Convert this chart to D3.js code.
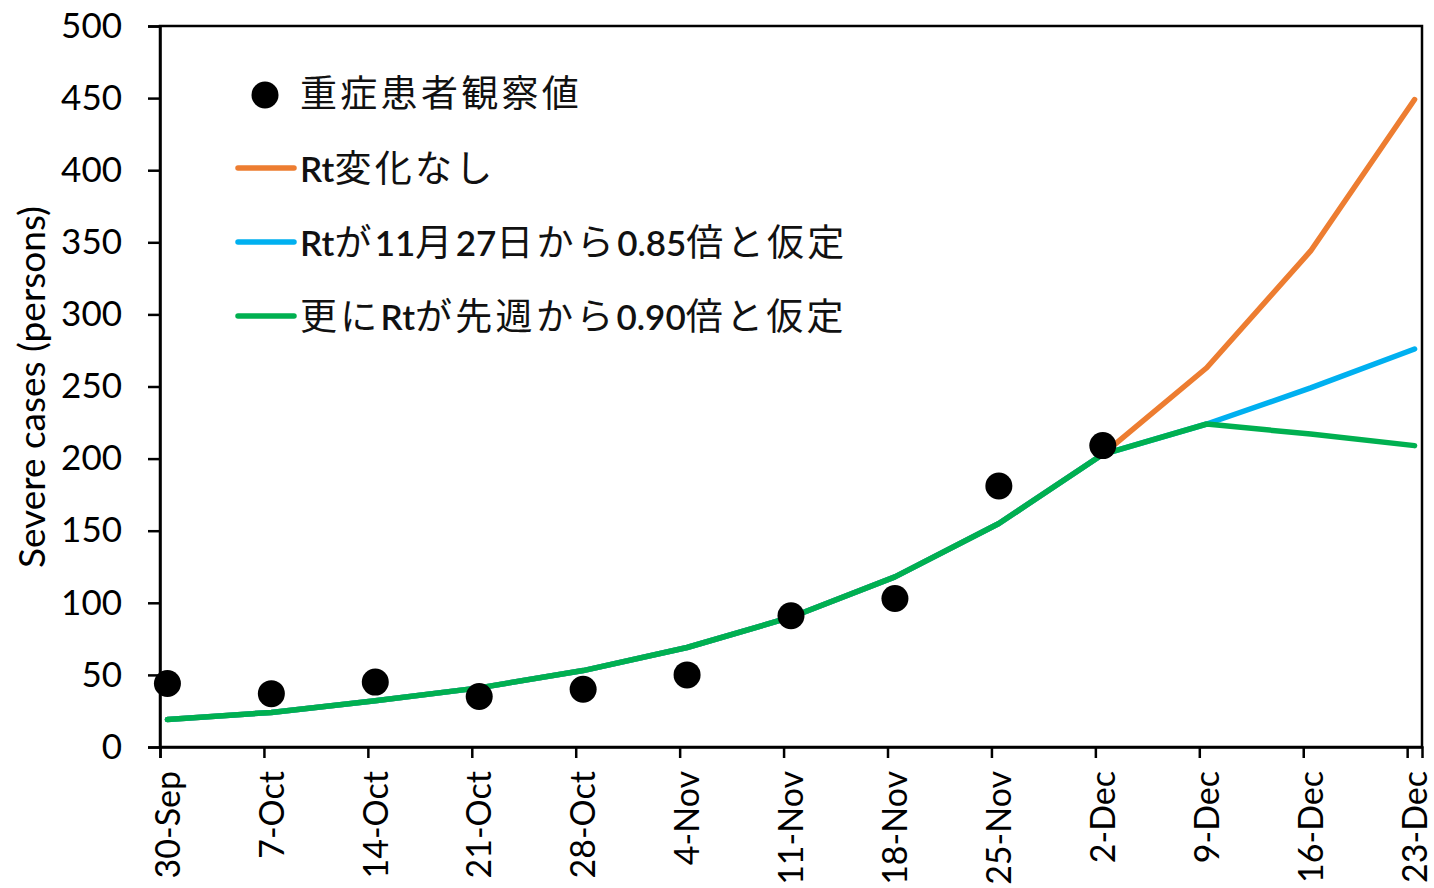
<!DOCTYPE html>
<html>
<script src="https://d3js.org/d3.v7.min.js"></script>

<head>
    <style>
        body {
            margin: 0;
            background-color: white;
        }

        svg {
            display: block;
        }
    </style>
</head>

<body>
</body>
<script>
    const width = 1434,
        height = 888;

    // weekly dates (Wednesdays), 2020
    const weeks = ["2020-09-30", "2020-10-07", "2020-10-14", "2020-10-21", "2020-10-28", "2020-11-04",
        "2020-11-11", "2020-11-18", "2020-11-25", "2020-12-02", "2020-12-09", "2020-12-16", "2020-12-23"];
    const tickLabels = ["30-Sep", "7-Oct", "14-Oct", "21-Oct", "28-Oct", "4-Nov", "11-Nov",
        "18-Nov", "25-Nov", "2-Dec", "9-Dec", "16-Dec", "23-Dec"];

    // observed severe cases (first 10 weeks)
    const observed = [44, 37, 45, 35, 40, 50, 91, 103, 181, 209];

    // model series
    const noChange = [19, 24, 32, 41, 53, 69, 90, 118, 155, 203, 263, 344, 449];
    const rt085 = [19, 24, 32, 41, 53, 69, 90, 118, 155, 203, 224, 249, 276];
    const rt090 = [19, 24, 32, 41, 53, 69, 90, 118, 155, 203, 224, 217, 209];

    const yTicks = [0, 50, 100, 150, 200, 250, 300, 350, 400, 450, 500];

    const legendLabels = ["重症患者観察値", "Rt変化なし", "Rtが11月27日から0.85倍と仮定", "更にRtが先週から0.90倍と仮定"];
    const lineColors = ["#ED7D31", "#00B0F0", "#00B050"];

    const margin = { top: 26, right: 12, bottom: 141, left: 160 };
    const latin = "Lato, 'Noto Sans', sans-serif";
    const cjk = "Lato, 'Noto Sans CJK JP', sans-serif";

    const parse = d3.timeParse("%Y-%m-%d");
    const dates = weeks.map(parse);
    const halfDay = d => d3.timeHour.offset(d, 12);

    const svg = d3.select("body").append("svg").attr("width", width).attr("height", height);

    const x = d3.scaleTime()
        .domain([dates[0], d3.timeDay.offset(dates[dates.length - 1], 1)])
        .range([margin.left, width - margin.right]);
    const y = d3.scaleLinear()
        .domain([0, 500])
        .range([height - margin.bottom, margin.top]);

    // plot box
    svg.append("rect")
        .attr("x", margin.left)
        .attr("y", margin.top)
        .attr("width", width - margin.right - margin.left)
        .attr("height", height - margin.bottom - margin.top)
        .attr("fill", "none")
        .attr("stroke", "black")
        .attr("stroke-width", 2.5);

    // y axis
    const yAxis = svg.append("g")
        .attr("transform", `translate(${margin.left},0)`)
        .call(d3.axisLeft(y).tickValues(yTicks).tickSize(12).tickPadding(26));
    yAxis.select(".domain").attr("stroke-width", 2.5);
    yAxis.selectAll(".tick line").attr("stroke-width", 2.5);
    yAxis.selectAll("text")
        .attr("font-family", latin)
        .attr("font-size", 35)
        .attr("fill", "black");

    // x axis
    const xAxis = svg.append("g")
        .attr("transform", `translate(0,${height - margin.bottom})`)
        .call(d3.axisBottom(x).tickValues(dates).tickSize(11).tickFormat(""));
    xAxis.select(".domain").attr("stroke-width", 2.5);
    xAxis.selectAll(".tick line").attr("stroke-width", 2.5);
    svg.append("g").selectAll("text")
        .data(dates)
        .join("text")
        .attr("transform", d => `translate(${x(halfDay(d))},${height - margin.bottom + 24}) rotate(-90)`)
        .attr("text-anchor", "end")
        .attr("dy", "0.36em")
        .attr("font-family", latin)
        .attr("font-size", 34)
        .text((d, i) => tickLabels[i]);

    // y label
    svg.append("text")
        .attr("transform", "translate(45,387) rotate(-90)")
        .attr("text-anchor", "middle")
        .attr("font-family", latin)
        .attr("font-size", 37)
        .text("Severe cases (persons)");

    // model lines
    const line = d3.line()
        .x((d, i) => x(halfDay(dates[i])))
        .y(d => y(d));
    [noChange, rt085, rt090].forEach((s, k) => {
        svg.append("path")
            .datum(s)
            .attr("fill", "none")
            .attr("stroke", lineColors[k])
            .attr("stroke-width", 5.5)
            .attr("stroke-linecap", "round")
            .attr("stroke-linejoin", "round")
            .attr("d", line);
    });

    // observed points
    svg.append("g").selectAll("circle")
        .data(observed)
        .join("circle")
        .attr("cx", (d, i) => x(halfDay(dates[i])))
        .attr("cy", d => y(d))
        .attr("r", 13.5)
        .attr("fill", "black");

    // legend, latin runs slightly smaller than the japanese
    function legendText(sel, str) {
        const runs = str.match(/[\x00-\x7F]+|[^\x00-\x7F]+/g);
        sel.selectAll("tspan")
            .data(runs)
            .join("tspan")
            .attr("font-size", r => /^[\x00-\x7F]+$/.test(r) ? 35 : 37)
            .attr("font-weight", r => /^[\x00-\x7F]+$/.test(r) ? 600 : 400)
            .attr("letter-spacing", r => /^[\x00-\x7F]+$/.test(r) ? 0 : 3.3)
            .text(r => r);
    }
    const legendY = [93, 168, 242, 316];
    const legend = svg.append("g");
    legend.append("circle")
        .attr("cx", 265)
        .attr("cy", legendY[0] + 2)
        .attr("r", 13.5)
        .attr("fill", "black");
    lineColors.forEach((c, k) => {
        legend.append("line")
            .attr("x1", 238).attr("x2", 294)
            .attr("y1", legendY[k + 1]).attr("y2", legendY[k + 1])
            .attr("stroke", c)
            .attr("stroke-width", 5.5)
            .attr("stroke-linecap", "round");
    });
    legendLabels.forEach((t, k) => {
        legend.append("text")
            .attr("x", 300)
            .attr("y", legendY[k] + 14)
            .attr("font-family", cjk)
            .attr("fill", "#111")
            .call(legendText, t);
    });
</script>

</html>
